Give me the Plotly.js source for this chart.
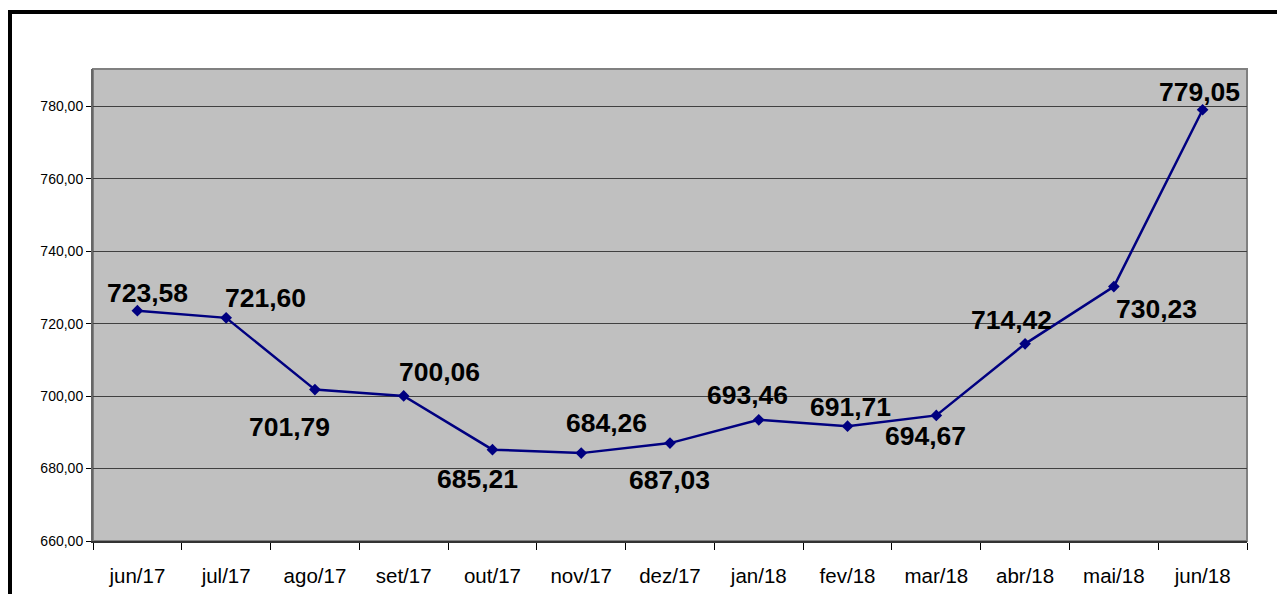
<!DOCTYPE html>
<html>
<head>
<meta charset="utf-8">
<script src="https://cdn.plot.ly/plotly-3.0.1.min.js"></script>
<style>
  html, body { margin: 0; padding: 0; background: #ffffff; }
  #wrap { position: relative; width: 1277px; height: 594px; overflow: hidden; }
  #chart { width: 1277px; height: 594px; }
  #frame { position: absolute; left: 8px; top: 10px; width: 1300px; height: 700px;
           border-top: 4px solid #000; border-left: 4px solid #000; pointer-events: none; }
</style>
</head>
<body>
<div id="wrap">
  <div id="chart"></div>
  <div id="frame"></div>
</div>
<script>
const months = ["jun/17","jul/17","ago/17","set/17","out/17","nov/17","dez/17","jan/18","fev/18","mar/18","abr/18","mai/18","jun/18"];
const values = [723.58, 721.60, 701.79, 700.06, 685.21, 684.26, 687.03, 693.46, 691.71, 694.67, 714.42, 730.23, 779.05];
const yTicks = [660, 680, 700, 720, 740, 760, 780];

// label offsets in pixels (style only)
const labelDx = [10, 39, -25, 36, -15, 25, -1, -11, 3, -11, -14, 43, -3];
const labelDy = [-18, -20, 37, -24, 29.5, -30, 37, -25, -19, 21, -23.5, 22, -18];

const fmt = v => v.toFixed(2).replace('.', ',');

const trace = {
  x: months,
  y: values,
  type: 'scatter',
  mode: 'lines+markers',
  line: { color: '#000080', width: 2.5 },
  marker: { symbol: 'diamond', size: 9, color: '#000080' },
  hoverinfo: 'skip',
  cliponaxis: false
};

const annotations = values.map((v, i) => ({
  x: months[i], y: v, xref: 'x', yref: 'y',
  text: fmt(v), showarrow: false,
  xanchor: 'center', yanchor: 'middle',
  xshift: labelDx[i], yshift: -labelDy[i],
  font: { family: 'Liberation Sans, Arial, sans-serif', size: 26.5, color: '#000', weight: 'bold' }
}));

const layout = {
  width: 1277, height: 594,
  margin: { l: 93, r: 30, t: 69, b: 53 },
  paper_bgcolor: '#ffffff',
  plot_bgcolor: '#c0c0c0',
  separators: ',.',
  showlegend: false,
  font: { family: 'Liberation Sans, Arial, sans-serif', color: '#000' },
  xaxis: {
    type: 'category',
    categoryorder: 'array', categoryarray: months,
    range: [-0.5, 12.5],
    tickson: 'boundaries',
    ticks: 'outside', ticklen: 7, tickcolor: '#000', tickwidth: 1,
    showgrid: false,
    showline: true, linecolor: '#333', linewidth: 2,
    tickfont: { size: 20.5, color: '#000' },
    ticklabelstandoff: 15,
    zeroline: false, fixedrange: true
  },
  yaxis: {
    range: [660, 790.3],
    tickmode: 'array', tickvals: yTicks,
    tickformat: '.2f',
    ticks: 'outside', ticklen: 5, tickcolor: '#000', tickwidth: 1,
    showgrid: true, gridcolor: '#404040', gridwidth: 1,
    showline: true, linecolor: '#666', linewidth: 2,
    tickfont: { size: 14, color: '#000' },
    zeroline: false, fixedrange: true
  },
  shapes: [{
    type: 'rect', xref: 'paper', yref: 'paper', x0: 0, x1: 1, y0: 0, y1: 1,
    line: { color: '#808080', width: 2 }, layer: 'below'
  }],
  annotations: annotations
};

Plotly.newPlot('chart', [trace], layout, { displayModeBar: false, staticPlot: true });
</script>
</body>
</html>
